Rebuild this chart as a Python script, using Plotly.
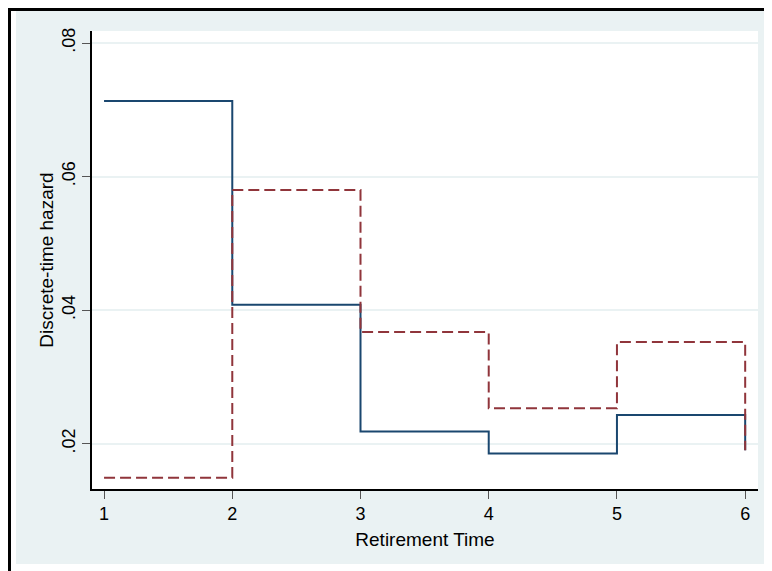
import plotly.graph_objects as go

# Data
time = [1, 2, 3, 4, 5, 6]
hazard_blue = [0.0713, 0.0408, 0.0218, 0.0185, 0.0243, 0.0190]
hazard_red = [0.0149, 0.0580, 0.0367, 0.0253, 0.0352, 0.0190]
x_ticks = [1, 2, 3, 4, 5, 6]
y_ticks = [0.02, 0.04, 0.06, 0.08]
y_tick_labels = [".02", ".04", ".06", ".08"]

# the page body has an 8px default margin, so the figure is 8px smaller each way
W, H = 764, 563
L, R, T, B = 84, 14, 23, 82
pw = W - L - R
ph = H - T - B

def px_x(p):
    return (p - L) / pw

def px_y(p):
    return (H - B - p) / ph

BG = "#EAF2F3"
FONT = "Liberation Sans, Arial, sans-serif"

fig = go.Figure()
fig.add_trace(go.Scatter(x=time, y=hazard_blue, mode="lines", line_shape="hv",
                         line=dict(color="#1a476f", width=2), showlegend=False))
fig.add_trace(go.Scatter(x=time, y=hazard_red, mode="lines", line_shape="hv",
                         line=dict(color="#90353b", width=2, dash="11px,5px"), showlegend=False))

shapes = []
# white strips outside the light background
shapes.append(dict(type="rect", xref="paper", yref="paper", x0=px_x(0), x1=px_x(8), y0=px_y(0), y1=px_y(H),
                   fillcolor="white", line_width=0, layer="below"))
shapes.append(dict(type="rect", xref="paper", yref="paper", x0=px_x(0), x1=px_x(W), y0=px_y(556), y1=px_y(H),
                   fillcolor="white", line_width=0, layer="below"))
# black frame lines (top and left)
shapes.append(dict(type="line", xref="paper", yref="paper", x0=px_x(0), x1=px_x(W), y0=px_y(1.5), y1=px_y(1.5),
                   line=dict(color="black", width=3)))
shapes.append(dict(type="line", xref="paper", yref="paper", x0=px_x(1.5), x1=px_x(1.5), y0=px_y(0), y1=px_y(H),
                   line=dict(color="black", width=3)))

fig.update_layout(
    width=W, height=H,
    margin=dict(l=L, r=R, t=T, b=B, autoexpand=False),
    paper_bgcolor=BG, plot_bgcolor="white",
    font=dict(family=FONT, color="black", size=18),
    shapes=shapes,
    xaxis=dict(range=[0.906, 6.10], tickvals=x_ticks, ticks="outside", ticklen=8, tickwidth=1.2,
               tickcolor="#555555", showgrid=False, zeroline=False, showline=True, linecolor="black",
               linewidth=1.5, tickfont=dict(size=18),
               title=dict(text="Retirement Time", font=dict(size=19), standoff=9)),
    yaxis=dict(range=[0.0132, 0.0818], tickvals=y_ticks, ticktext=y_tick_labels, ticks="outside",
               ticklen=8, tickwidth=1.2, tickcolor="#555555", tickangle=-90, showgrid=True,
               gridcolor=BG, gridwidth=1.5, zeroline=False, showline=True, linecolor="black",
               linewidth=1.5, tickfont=dict(size=18),
               title=dict(text="Discrete-time hazard", font=dict(size=19), standoff=0)),
)

fig.write_html("out.html")
